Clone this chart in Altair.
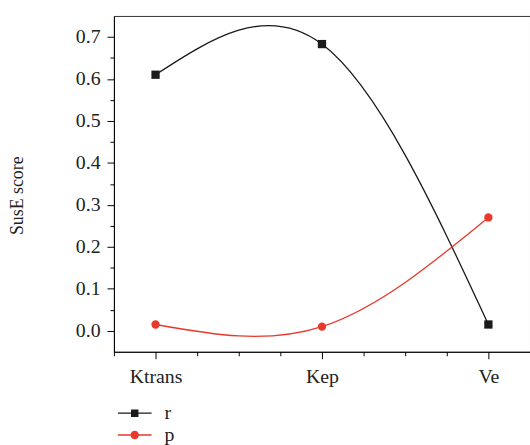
import altair as alt
import pandas as pd

# ---- data ----
categories = ["Ktrans", "Kep", "Ve"]
cat_pos = [1, 2, 3]
r_values = [0.61, 0.683, 0.015]
p_values = [0.015, 0.01, 0.27]
series_names = ["r", "p"]
series_colors = ["#1a1a1a", "#e8392c"]
series_shapes = ["square", "circle"]

x_ticks = [0.75, 1.0, 1.25, 1.5, 1.75, 2.0, 2.25, 2.5, 2.75, 3.0, 3.25]
y_ticks = [0.0, 0.05, 0.1, 0.15, 0.2, 0.25, 0.3, 0.35, 0.4, 0.45, 0.5, 0.55, 0.6, 0.65, 0.7]

rows = []
for name, vals, col, shp in zip(series_names, [r_values, p_values], series_colors, series_shapes):
    for c, xp, v in zip(categories, cat_pos, vals):
        rows.append(dict(series=name, category=c, x=xp, value=v, col=col, shp=shp))
df = pd.DataFrame(rows)

FONT = "Liberation Serif"

x_label_expr = " : ".join(
    f"datum.value == {p} ? '{c}'" for c, p in zip(categories, cat_pos)
) + " : ''"

x_enc = alt.X(
    "x:Q",
    scale=alt.Scale(domain=[0.75, 3.25], nice=False, zero=False),
    axis=alt.Axis(
        values=x_ticks,
        labelExpr=x_label_expr,
        title=None,
        grid=False,
        tickSize={"condition": {"test": "abs(datum.value - round(datum.value)) < 0.001", "value": 7}, "value": 4},
        tickColor="black",
        domainColor="black",
        labelFont=FONT,
        labelFontSize=20,
        labelColor="#222",
        labelPadding=8,
        labelFlush=False,
        labelOverlap=False,
    ),
)
y_enc = alt.Y(
    "value:Q",
    scale=alt.Scale(domain=[-0.05, 0.75], nice=False, zero=False),
    axis=alt.Axis(
        values=y_ticks,
        labelExpr="abs(datum.value*10 - round(datum.value*10)) < 0.001 ? format(datum.value, '.1f') : ''",
        grid=False,
        tickSize={"condition": {"test": "abs(datum.value*10 - round(datum.value*10)) < 0.001", "value": 7}, "value": 4},
        tickColor="black",
        domainColor="black",
        labelFont=FONT,
        labelFontSize=20,
        labelColor="#222",
        labelPadding=7,
        labelOverlap=False,
        title="SusE score",
        titleFont=FONT,
        titleFontSize=18,
        titleFontWeight="normal",
        titleColor="#222",
        titleX=-97,
        titleY=181,
        titleBaseline="middle",
    ),
)

base = alt.Chart(df)

lines = base.mark_line(interpolate="natural", strokeWidth=1.3).encode(
    x=x_enc, y=y_enc,
    color=alt.Color("col:N", scale=None),
    detail="series:N",
)

points = base.mark_point(filled=True, size=70, opacity=1).encode(
    x=x_enc, y=y_enc,
    color=alt.Color("col:N", scale=None),
    shape=alt.Shape("shp:N", scale=None),
)

sq_path = "M-3.4,-0.13H3.4V0.13H-3.4Z M-0.75,-0.75H0.75V0.75H-0.75Z"
circ_path = "M-3.4,-0.13H3.4V0.13H-3.4Z M0.85,0A0.85,0.85 0 1,1 -0.85,0A0.85,0.85 0 1,1 0.85,0Z"

leg = alt.Legend(
    title=None,
    orient="none",
    legendX=11,
    legendY=391,
    symbolSize=100,
    symbolOpacity=1,
    symbolStrokeWidth=0,
    labelFont=FONT,
    labelFontSize=20,
    labelColor="#222",
    labelOffset=20,
    rowPadding=2,
)

legend_layer = base.mark_point(filled=True, opacity=0).encode(
    x=x_enc, y=y_enc,
    color=alt.Color("series:N", scale=alt.Scale(domain=series_names, range=series_colors), legend=leg),
    shape=alt.Shape("series:N", scale=alt.Scale(domain=series_names, range=[sq_path, circ_path]), legend=leg),
)

chart = (
    alt.layer(lines, points, legend_layer)
    .properties(
        width=420,
        height=339,
        autosize=alt.AutoSizeParams(type="none"),
        padding={"left": 115, "top": 14, "right": 0, "bottom": 92},
        background="white",
    )
    .configure_view(stroke="#333", strokeWidth=1)
)

chart.save("out.html", embed_options={"renderer": "svg", "actions": False})
